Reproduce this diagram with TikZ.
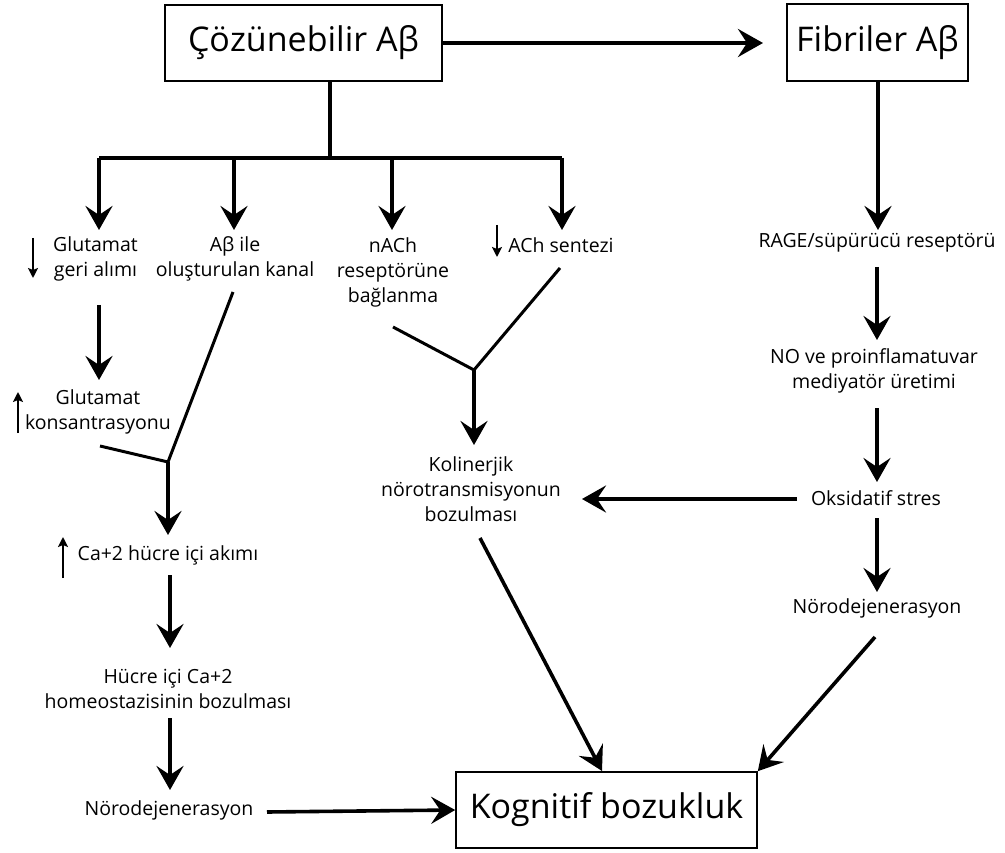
\documentclass[tikz,border=0pt]{standalone}
\usepackage{fontspec}
\setmainfont{Open Sans}
\usetikzlibrary{arrows.meta}
\begin{document}
\begin{tikzpicture}[x=1pt,y=-1pt,
  bigbox/.style={draw, line width=1.6pt, inner sep=0pt, font=\fontsize{34}{40}\selectfont},
  txt/.style={align=center, inner sep=0pt, font=\fontsize{19.5}{25}\selectfont},
  arr/.style={line width=4pt, -{Stealth[length=25pt,width=28pt,inset=9pt]}},
  marr/.style={line width=3.6pt, -{Stealth[length=24pt,width=27pt,inset=9pt]}},
  ln/.style={line width=3pt},
  sarr/.style={line width=1.8pt, -{Stealth[length=10pt,width=10pt,inset=2pt]}}]
\useasboundingbox (0,0) rectangle (1005,853);

% boxes
\node[bigbox, minimum width=277pt, minimum height=76pt] (cz) at (303.5,43) {Çözünebilir Aβ};
\node[bigbox, minimum width=181pt, minimum height=77pt] (fb) at (877.5,42.5) {Fibriler Aβ};
\node[bigbox, minimum width=301pt, minimum height=76pt] (kb) at (606.5,810) {Kognitif bozukluk};

% text nodes
\node[txt] (glu1) at (95.5,259) {Glutamat\\geri alımı};
\node[txt] (kanal) at (235,259) {Aβ ile\\oluşturulan kanal};
\node[txt] (nach) at (393,272) {nACh\\reseptörüne\\bağlanma};
\node[txt] (ach) at (561,245) {ACh sentezi};
\node[txt] (glu2) at (98,412) {Glutamat\\konsantrasyonu};
\node[txt] (ca) at (168,555) {Ca+2 hücre içi akımı};
\node[txt] (hom) at (168,689) {Hücre içi Ca+2\\homeostazisinin bozulması};
\node[txt] (nd1) at (169,810) {Nörodejenerasyon};
\node[txt] (kol) at (471,489) {Kolinerjik\\nörotransmisyonun\\bozulması};
\node[txt] (rage) at (877,243) {RAGE/süpürücü reseptörü};
\node[txt] (no) at (874,371) {NO ve proinflamatuvar\\mediyatör üretimi};
\node[txt] (oks) at (876,498) {Oksidatif stres};
\node[txt] (nd2) at (877,608) {Nörodejenerasyon};

% coordinates for connector ends
\coordinate (czs) at (330,81);
\coordinate (br) at (330,158);
\coordinate (b1) at (99,158);
\coordinate (b2) at (234,158);
\coordinate (b3) at (392,158);
\coordinate (b4) at (562,158);
\coordinate (t1) at (99,230);
\coordinate (t2) at (234,230);
\coordinate (t3) at (392,230);
\coordinate (t4) at (562,230);
\coordinate (fbin) at (763,43);
\coordinate (m1) at (168,462);
\coordinate (m2) at (474,370);

% top
\draw[arr] (cz.east) -- (fbin);
\draw[line width=3.4pt] (czs) -- (br);
\draw[line width=3.4pt] (b1) -- (b4);
\draw[marr] (b1) -- (t1);
\draw[marr] (b2) -- (t2);
\draw[marr] (b3) -- (t3);
\draw[marr] (b4) -- (t4);

% left column
\draw[marr] (99,305) -- (99,380);
\draw[ln] (233,292) -- (m1);
\draw[ln] (100,446) -- (m1);
\draw[marr] (m1) -- (168,535);
\draw[marr] (170,575) -- (170,648);
\draw[marr] (170,718) -- (170,790);
\draw[marr] (267,812) -- (kb.west);

% middle
\draw[ln] (393,327) -- (m2);
\draw[ln] (560,268) -- (m2);
\draw[marr] (m2) -- (474,445);
\draw[marr] (480,538) -- (602,771);

% right column
\draw[marr] (878,81) -- (878,230);
\draw[marr] (877,267) -- (877,340);
\draw[marr] (877,408) -- (877,482);
\draw[marr] (797,499) -- (582,499);
\draw[marr] (877,518) -- (877,592);
\draw[marr] (875,637) -- (kb.north east);

% small indicator arrows
\draw[sarr] (33,238) -- (33,278);
\draw[sarr] (18,433) -- (18,392);
\draw[sarr] (63,578) -- (63,537);
\draw[sarr] (497,225) -- (497,257);
\end{tikzpicture}
\end{document}
